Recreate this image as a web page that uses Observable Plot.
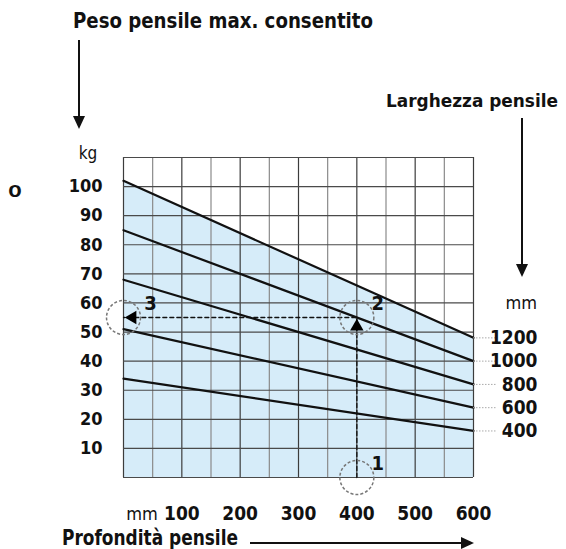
<!DOCTYPE html>
<html><head><meta charset="utf-8">
<script src="https://cdn.jsdelivr.net/npm/d3@7"></script>
<script src="https://cdn.jsdelivr.net/npm/@observablehq/plot@0.6"></script>
<style>
body{margin:0;background:#fff;}
</style></head><body><div id="chart"></div>
<script>
// ---- data ----
const widths = [1200, 1000, 800, 600, 400];          // Larghezza pensile (mm)
const depths = [0, 600];                               // Profondità pensile (mm)
const weightAt0 = [102, 85, 68, 51, 34];               // kg at depth 0
const weightAt600 = [48, 40, 32, 24, 16];              // kg at depth 600
const xTicks = [100, 200, 300, 400, 500, 600];
const yTicks = [10, 20, 30, 40, 50, 60, 70, 80, 90, 100];
const xGridMajor = [0, 100, 200, 300, 400, 500, 600];
const xGridMinor = [50, 150, 250, 350, 450, 550];
const yGrid = [0, 10, 20, 30, 40, 50, 60, 70, 80, 90, 100, 110];
const steps = ["1", "2", "3"];
const stepDepth = [400, 400, 0];
const stepWeight = [0, 55, 55];

const lines = widths.flatMap((w, i) => [
  {w, d: depths[0], kg: weightAt0[i]},
  {w, d: depths[1], kg: weightAt600[i]}
]);
const ends = lines.filter(d => d.d === 600);
const topLine = lines.filter(d => d.w === 1200);
const stepData = steps.map((s, i) => ({s, d: stepDepth[i], kg: stepWeight[i]}));

const NARROW = "'Liberation Sans Narrow','Arial Narrow','DejaVu Sans Condensed','Liberation Sans',sans-serif";
const SANS = "'Liberation Sans',Arial,sans-serif";
const TITLE = "'DejaVu Sans Condensed','Open Sans',sans-serif";

function decor(index, scales, values, dim) {
  const g = d3.create("svg:g");
  const text = (x, y, s, o = {}) => {
    const t = g.append("text")
      .attr("x", x).attr("y", y).attr("dy", "0.35em")
      .attr("text-anchor", o.anchor || "start")
      .attr("font-family", o.font || TITLE)
      .attr("font-weight", o.weight || "bold")
      .attr("font-size", o.size || 21)
      .attr("fill", "#111").text(s);
    if (o.len) t.attr("textLength", o.len).attr("lengthAdjust", "spacingAndGlyphs");
    return t;
  };
  const arrow = (x1, y1, x2, y2) => {
    const a = Math.atan2(y2 - y1, x2 - x1), L = 13, W = 6;
    const bx = x2 - L * Math.cos(a), by = y2 - L * Math.sin(a);
    g.append("line").attr("x1", x1).attr("y1", y1).attr("x2", bx).attr("y2", by)
      .attr("stroke", "#111").attr("stroke-width", 2);
    g.append("path").attr("fill", "#111").attr("d",
      `M${x2},${y2}L${bx + W * Math.sin(a)},${by - W * Math.cos(a)}L${bx - W * Math.sin(a)},${by + W * Math.cos(a)}Z`);
  };
  text(73, 21, "Peso pensile max. consentito", {len: 300});
  arrow(79, 40, 79, 129);
  text(558, 101, "Larghezza pensile", {anchor: "end", len: 172, size: 18});
  arrow(522, 118, 522, 277);
  text(62, 538, "Profondità pensile", {len: 176});
  arrow(250, 543, 474, 543);
  text(88, 153, "kg", {anchor: "middle", font: NARROW, weight: "normal", size: 17});
  text(15, 189, "o", {anchor: "middle", font: SANS, size: 22});
  text(537, 303, "mm", {anchor: "end", font: NARROW, weight: "normal", size: 18});
  text(142, 514, "mm", {anchor: "middle", font: NARROW, weight: "normal", size: 18});
  return g.node();
}

const plot = Plot.plot({
  width: 566, height: 549,
  marginLeft: 123, marginRight: 93, marginTop: 157, marginBottom: 72,
  x: {domain: [0, 600]},
  y: {domain: [0, 110]},
  style: {fontFamily: NARROW, background: "#fff", color: "#111"},
  marks: [
    Plot.areaY(topLine, {x: "d", y: "kg", fill: "#d6ecf9"}),
    Plot.ruleX(xGridMinor, {stroke: "#8a8a8a", strokeWidth: 1.2}),
    Plot.ruleX(xGridMajor, {stroke: "#3c3c3c", strokeWidth: 1.2}),
    Plot.ruleY(yGrid, {stroke: "#4a4a4a", strokeWidth: 1.2}),
    Plot.line(lines, {x: "d", y: "kg", z: "w", stroke: "#111", strokeWidth: 2.2}),
    Plot.ruleY(ends, {y: "kg", x1: 600, x2: 640, stroke: "#aaa", strokeDasharray: "1.5,1.5"}),
    Plot.text(ends, {x: "d", y: "kg", text: d => String(d.w), textAnchor: "end", dx: 64,
      fontWeight: "bold", fontSize: 19}),
    Plot.line(stepData, {x: "d", y: "kg", stroke: "#111", strokeWidth: 1.3, strokeDasharray: "4,3"}),
    Plot.dot(stepData, {x: "d", y: "kg", r: 17, stroke: "#777", strokeDasharray: "3,2", fill: "none"}),
    Plot.dot(stepData.filter(s => s.s === "2"), {x: "d", y: "kg", symbol: "triangle", r: 5, fill: "#000", dy: 9}),
    Plot.dot(stepData.filter(s => s.s === "3"), {x: "d", y: "kg", symbol: "triangle", r: 5, fill: "#000", rotate: -90, dx: 9}),
    Plot.text(stepData.filter(s => s.s !== "3"), {x: "d", y: "kg", text: "s", dx: 21, dy: -14, fontWeight: "bold", fontSize: 20}),
    Plot.text(stepData.filter(s => s.s === "3"), {x: "d", y: "kg", text: "s", dx: 27, dy: -14, fontWeight: "bold", fontSize: 20}),
    Plot.axisY(yTicks, {tickSize: 0, tickPadding: 21, fontSize: 18, fontWeight: "bold", label: null}),
    Plot.axisX(xTicks, {tickSize: 0, tickPadding: 29, fontSize: 19, fontWeight: "bold", label: null}),
    decor
  ]
});
document.getElementById("chart").append(plot);
</script>
</body></html>
